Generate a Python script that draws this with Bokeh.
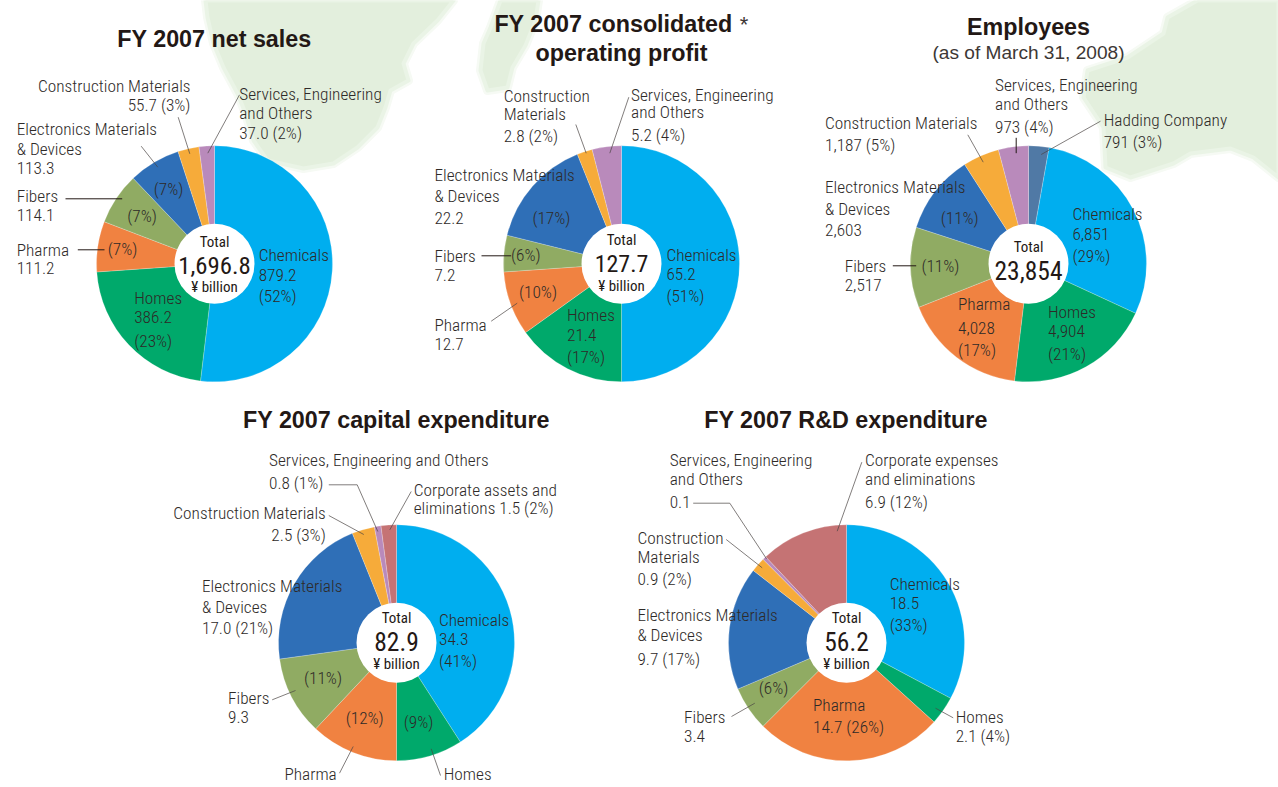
from math import pi
from bokeh.plotting import figure
from bokeh.models import Range1d, ColumnDataSource
from bokeh.core.properties import value
from bokeh.embed import file_html
from bokeh.resources import INLINE

# ---------- data ----------
segments = ["Chemicals", "Homes", "Pharma", "Fibers", "Electronics Materials & Devices", "Construction Materials", "Services, Engineering and Others"]
# values printed on the chart
net_sales = [879.2, 386.2, 111.2, 114.1, 113.3, 55.7, 37.0]
op_profit = [65.2, 21.4, 12.7, 7.2, 22.2, 2.8, 5.2]
employees = [791, 6851, 4904, 4028, 2517, 2603, 1187, 973]
capex = [34.3, 7.5, 10.0, 9.3, 17.0, 2.5, 0.8, 1.5]
rnd = [18.5, 2.1, 14.7, 3.4, 9.7, 0.9, 0.1, 6.9]
# slice shares as they are drawn in the picture (percent of the circle)
net_sales_shares = [51.9, 22.0, 6.9, 7.1, 7.1, 2.9, 2.1]
op_profit_shares = [50.0, 15.1, 8.8, 5.0, 15.0, 2.1, 4.0]
employees_shares = [2.8, 29.1, 20.0, 17.1, 11.0, 10.9, 5.0, 4.1]
capex_shares = [40.9, 9.1, 12.0, 10.8, 21.1, 3.1, 0.9, 2.1]
rnd_shares = [32.8, 3.9, 25.8, 6.1, 16.9, 2.0, 0.5, 12.0]

CHEM, HOME, PHAR, FIB, ELEC, CONS, SERV, CORP, HOLD = (
    "#00aeef", "#00a96b", "#f08241", "#90ab63", "#2f6fb7", "#f6ab3a", "#b98abb", "#c57374", "#5079a5")
seg7 = [CHEM, HOME, PHAR, FIB, ELEC, CONS, SERV]

# ---------- layout (page pixels) ----------
R_OUT, R_IN = 118, 40
TOP_Y, BOT_Y = 263.3, 642.3
pies = [
    (214, TOP_Y, net_sales_shares, seg7),
    (621, TOP_Y, op_profit_shares, seg7),
    (1028, TOP_Y, employees_shares, [HOLD] + seg7),
    (396, BOT_Y, capex_shares, seg7 + [CORP]),
    (846, BOT_Y, rnd_shares, seg7 + [CORP]),
]

P_W, P_H = 1278, 787
def Y(py):
    return P_H - py

p = figure(width=P_W, height=P_H, output_backend="svg", toolbar_location=None,
           x_range=Range1d(0, P_W), y_range=Range1d(0, P_H),
           x_axis_type=None, y_axis_type=None, min_border=0, outline_line_color=None)
p.grid.visible = False
p.background_fill_color = "white"
p.border_fill_color = "white"

# ---------- pale background land ----------
LAND = "#e3efdd"
land_shapes = [
    [(205,0),(207,17),(213,43),(223,67),(237,93),(245,113),(253,140),(267,160),(303,168),(333,163),(357,147),(377,127),(385,107),(390,90),(408,80),(403,63),(413,43),(437,20),(453,0)],
    [(500,0),(490,27),(483,43),(480,70),(487,90),(507,87),(512,67),(525,45),(535,20),(538,0)],
    [(1197,0),(1167,17),(1163,33),(1127,57),(1087,70),(1083,97),(1103,127),(1105,167),(1130,177),(1173,163),(1190,153),(1230,148),(1253,157),(1278,177),(1278,0)],
]
for s in land_shapes:
    xs = [a for a, b in s]
    ys = [Y(b) for a, b in s]
    p.patch(xs, ys, fill_color=LAND, line_color="#f6faf4", line_width=9, line_join="round")
    p.patch(xs, ys, fill_color=LAND, line_color="#eaf4e6", line_width=4, line_join="round")

# ---------- wedges ----------
for cx, cy, vals, cols in pies:
    tot = sum(vals)
    ang = [pi / 2]
    for v in vals:
        ang.append(ang[-1] - 2 * pi * v / tot)
    p.annular_wedge(x=[cx] * len(vals), y=[Y(cy)] * len(vals),
                    inner_radius=R_IN - 1, outer_radius=R_OUT,
                    start_angle=ang[:-1], end_angle=ang[1:], direction="clock",
                    fill_color=cols, line_color="white", line_alpha=0.45, line_width=0.5)
    p.circle(x=[cx], y=[Y(cy)], radius=R_IN, fill_color="white", line_color=None)

# ---------- leader lines ----------
thin_lines = [
    [(239,94.3),(207.3,152.7)], [(177.7,116.7),(189.3,153.3)], [(140.7,145.7),(157.3,166.7)],
    [(628.3,96.7),(609.3,152.7)], [(575.3,124),(585.7,152.7)], [(490.7,320.7),(516.7,302.7)],
    [(1100,120.7),(1040.7,154)], [(967.3,134.3),(982.7,161.7)],
    [(328.3,484.3),(356.7,484.3),(377.3,531)], [(410.7,491),(389.3,529.3)], [(328.3,515),(363.3,534)],
    [(271.7,699.3),(295,690)], [(339,772.7),(352.7,746)], [(440,775),(430.7,748.3)],
    [(692.7,502.7),(729.3,502.7),(766,558.3)], [(861.3,461.7),(836.7,530.7)], [(725.7,539),(761.7,567.3)],
    [(731,716),(754.3,702.7)], [(952.7,717.3),(935,707.7)],
]
dark_lines = [
    [(65,198.3),(121.7,198.3)], [(77.3,249.3),(104,249.3)],
    [(481,255.3),(510.7,255.3)], [(892.3,265.3),(915.7,265.3)], [(1015.7,137.3),(1015.7,152.7)],
]
p.multi_line([[a for a, b in l] for l in thin_lines], [[Y(b) for a, b in l] for l in thin_lines],
             line_color="#4a4543", line_width=0.7)
p.multi_line([[a for a, b in l] for l in dark_lines], [[Y(b) for a, b in l] for l in dark_lines],
             line_color="#231815", line_width=1.0)

# ---------- text ----------
NARROW = "Roboto Condensed Light"
NARROW_REG = "Roboto Condensed"
SANS = "Liberation Sans"
TXT = "#2e2a28"

def texts(rows, font=NARROW, size="17.3px", color=TXT, align="left", style="normal", dx=0.0, dy=0.0):
    src = ColumnDataSource(dict(x=[r[0] + dx for r in rows], y=[Y(r[1] + dy) for r in rows], t=[r[2] for r in rows]))
    p.text(x="x", y="y", text="t", source=src, text_font=value(font), text_font_size=size,
           text_color=color, text_align=align, text_baseline="middle", text_font_style=style)

left_labels = [
    # net sales
    (239.5,94.3,"Services, Engineering"),(239.5,113.5,"and Others"),(239.5,133,"37.0 (2%)"),
    (17,129.5,"Electronics Materials"),(17,149,"& Devices"),(17,168,"113.3"),
    (17,196.5,"Fibers"),(17,215.5,"114.1"),(17,250,"Pharma"),(17,268,"111.2"),
    (108,249.5,"(7%)"),(127.5,216.5,"(7%)"),(154,189,"(7%)"),
    (259,255.5,"Chemicals"),(259,275,"879.2"),(259,296,"(52%)"),
    (134.5,298.5,"Homes"),(134.5,317.5,"386.2"),(134.5,341,"(23%)"),
    # operating profit
    (504,96,"Construction"),(504,114.7,"Materials"),(504,136.3,"2.8 (2%)"),
    (631.3,95,"Services, Engineering"),(631.3,112.7,"and Others"),(631.3,135.7,"5.2 (4%)"),
    (434.7,175.7,"Electronics Materials"),(434.7,196.7,"& Devices"),(434.7,218.7,"22.2"),
    (532.7,218,"(17%)"),(434.7,256.7,"Fibers"),(434.7,275.7,"7.2"),(511.3,255,"(6%)"),
    (434.7,325,"Pharma"),(434.7,344,"12.7"),(519.3,292.7,"(10%)"),
    (567.3,315.7,"Homes"),(567.3,335,"21.4"),(567.3,357.3,"(17%)"),
    (666.7,255.3,"Chemicals"),(666.7,274.7,"65.2"),(666.7,296,"(51%)"),
    # employees
    (995.3,85.7,"Services, Engineering"),(995.3,104.7,"and Others"),(995.3,127.3,"973 (4%)"),
    (1104,120,"Hadding Company"),(1104,142,"791 (3%)"),
    (825.3,123.7,"Construction Materials"),(825.3,145.7,"1,187 (5%)"),
    (825.3,187.7,"Electronics Materials"),(825.3,209,"& Devices"),(825.3,230.7,"2,603"),(941,218,"(11%)"),
    (845,266.7,"Fibers"),(845,285.7,"2,517"),(921.7,266,"(11%)"),
    (958.3,304.7,"Pharma"),(958.3,328,"4,028"),(958.3,350,"(17%)"),
    (1048.3,312.7,"Homes"),(1048.3,331.7,"4,904"),(1048.3,354,"(21%)"),
    (1072.7,214.7,"Chemicals"),(1072.7,234,"6,851"),(1072.7,256.7,"(29%)"),
    # capital expenditure
    (269.3,460.7,"Services, Engineering and Others"),(269.3,483.3,"0.8 (1%)"),
    (414,490,"Corporate assets and"),(414,508.7,"eliminations 1.5 (2%)"),
    (202.3,586.7,"Electronics Materials"),(202.3,607.7,"& Devices"),(202.3,628.7,"17.0 (21%)"),
    (439.3,620,"Chemicals"),(439.3,639,"34.3"),(439.3,661.3,"(41%)"),
    (228.3,698.3,"Fibers"),(228.3,717.3,"9.3"),(304.3,678.3,"(11%)"),(346,718,"(12%)"),(404,722,"(9%)"),
    (284.7,774.7,"Pharma"),(284.7,793.5,"10.0"),(444,774.7,"Homes"),(444,793.5,"7.5"),
    # R&D expenditure
    (670,460.7,"Services, Engineering"),(670,479.3,"and Others"),(670,502.7,"0.1"),
    (865.3,460.7,"Corporate expenses"),(865.3,479.3,"and eliminations"),(865.3,502.7,"6.9 (12%)"),
    (637.7,538.7,"Construction"),(637.7,557,"Materials"),(637.7,579.3,"0.9 (2%)"),
    (637.7,615.3,"Electronics Materials"),(637.7,635.7,"& Devices"),(637.7,659,"9.7 (17%)"),
    (684.3,717.3,"Fibers"),(684.3,736.7,"3.4"),(759,688,"(6%)"),
    (813.3,705.7,"Pharma"),(813.3,727.3,"14.7 (26%)"),
    (956,717.7,"Homes"),(956,736.7,"2.1 (4%)"),
    (890,584.7,"Chemicals"),(890,603.7,"18.5"),(890,625.7,"(33%)"),
]
texts(left_labels, dx=-0.8, dy=-1)
texts([(190,86,"Construction Materials"),(190,105,"55.7 (3%)"),
       (325.3,513.3,"Construction Materials"),(325.3,535,"2.5 (3%)")], align="right", dy=-1)

# centre of each pie
texts([(214,242,"Total"),(621,240.3,"Total"),(1028,247.3,"Total"),(396,618.3,"Total"),(846,618.3,"Total"),
       (214,287,"¥ billion"),(621,286.3,"¥ billion"),(396,664,"¥ billion"),(846,664,"¥ billion")],
      font=NARROW_REG, size="15px", color="#231815", align="center", dy=-0.5)
texts([(214,264.5,"1,696.8")], font=NARROW_REG, size="24.8px", color="#231815", align="center")
texts([(621,263.3,"127.7")], font=NARROW_REG, size="24px", color="#231815", align="center")
texts([(1028,270,"23,854"),(396,641,"82.9"),(846,641,"56.2")],
      font=NARROW_REG, size="25.5px", color="#231815", align="center")

# titles
texts([(214,38,"FY 2007 net sales"),(613,23,"FY 2007 consolidated"),(621,52.7,"operating profit"),
       (1028,26,"Employees"),(396,419,"FY 2007 capital expenditure"),(845.5,419,"FY 2007 R&D expenditure")],
      font=SANS, size="23.3px", color="#231815", align="center", style="bold")
texts([(743.5,24,"*")], font=SANS, size="22px", color="#3c3735", align="center")
texts([(1028,52.3,"(as of March 31, 2008)")], font=SANS, size="19.1px", color="#3c3735", align="center")

open("out.html", "w").write(file_html(p, INLINE))
